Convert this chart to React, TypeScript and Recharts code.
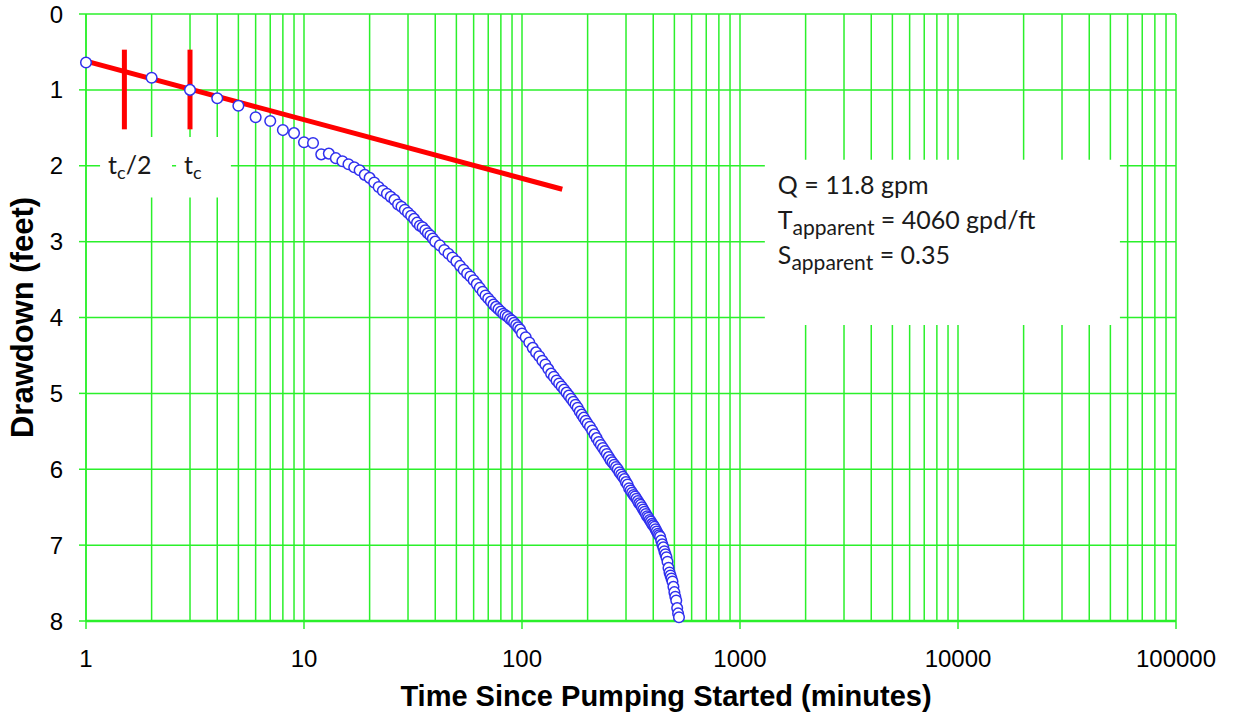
import React from 'react';
import { ScatterChart, Scatter, XAxis, YAxis, ReferenceLine, ReferenceArea } from 'recharts';

// drawdown readings (minutes since pumping started, feet)
const TIME_MIN = [
  1, 2, 3, 4, 5, 6, 7, 8, 9, 10, 11, 12, 13, 14, 15, 16, 17, 18, 19, 20,
  21, 22, 23, 24, 25, 26, 27, 28, 29, 30, 31, 32, 33, 34, 35, 36, 37, 38, 39, 40,
  42, 44, 46, 48, 50, 52, 54, 56, 58, 60, 62, 64, 66, 68, 70, 72, 74, 76, 78, 80,
  82, 84, 86, 88, 90, 92, 94, 96, 98, 100,
  104, 108, 112, 116, 120, 124, 128, 132, 136, 140, 144, 148, 152, 156, 160, 164, 168, 172, 176, 180,
  184, 188, 192, 196, 200,
  205, 210, 215, 220, 225, 230, 235, 240, 245, 250, 255, 260, 265, 270, 275, 280, 285, 290, 295, 300,
  305, 310, 315, 320, 325, 330, 335, 340, 345, 350, 355, 360, 365, 370, 375, 380, 385, 390, 395, 400,
  405, 410, 415, 420, 425, 430, 435, 440, 445, 450, 455, 460, 465, 470, 475, 480, 485, 490, 495, 500,
  505, 510, 515, 520, 525,
];
const DRAWDOWN_FT = [
  0.64, 0.84, 1.0, 1.11, 1.21, 1.36, 1.41, 1.53, 1.57, 1.69, 1.7, 1.85, 1.84, 1.9, 1.94, 1.98, 2.02, 2.06, 2.12, 2.16,
  2.22, 2.28, 2.33, 2.37, 2.41, 2.45, 2.51, 2.54, 2.58, 2.62, 2.66, 2.7, 2.75, 2.79, 2.81, 2.85, 2.89, 2.92, 2.96, 3.0,
  3.05, 3.11, 3.16, 3.21, 3.26, 3.32, 3.37, 3.42, 3.46, 3.51, 3.56, 3.61, 3.66, 3.71, 3.75, 3.79, 3.83, 3.86, 3.89, 3.92,
  3.95, 3.97, 3.99, 4.02, 4.04, 4.07, 4.1, 4.13, 4.16, 4.21,
  4.26, 4.33, 4.4, 4.46, 4.51, 4.57, 4.62, 4.68, 4.74, 4.78, 4.83, 4.87, 4.91, 4.95, 4.99, 5.03, 5.07, 5.11, 5.15, 5.19,
  5.24, 5.28, 5.32, 5.36, 5.4,
  5.44, 5.49, 5.54, 5.59, 5.64, 5.68, 5.72, 5.76, 5.8, 5.84, 5.88, 5.91, 5.94, 5.97, 6.0, 6.04, 6.07, 6.1, 6.13, 6.17,
  6.2, 6.25, 6.28, 6.31, 6.34, 6.36, 6.39, 6.42, 6.45, 6.47, 6.5, 6.53, 6.56, 6.59, 6.62, 6.64, 6.67, 6.69, 6.72, 6.74,
  6.76, 6.79, 6.82, 6.85, 6.87, 6.89, 6.94, 6.99, 7.03, 7.08, 7.12, 7.16, 7.22, 7.3, 7.36, 7.4, 7.44, 7.48, 7.55, 7.62,
  7.68, 7.73, 7.83, 7.9, 7.95,
];

const X_TICKS = [1, 10, 100, 1000, 10000, 100000];
const X_MINOR_FACTORS = [2, 3, 4, 5, 6, 7, 8, 9];
const Y_TICKS = [0, 1, 2, 3, 4, 5, 6, 7, 8];

// straight-line (Cooper-Jacob) fit and the t_c/2, t_c markers
const FIT_T = [1, 153];
const FIT_D = [0.62, 2.31];
const MARK_T = [1.5, 3];
const MARK_D = [0.47, 1.52];

const PARAM_NAMES = ['Q', 'T', 'S'];
const PARAM_SUBS = ['', 'apparent', 'apparent'];
const PARAM_VALUES = [' = 11.8 gpm', ' = 4060 gpd/ft', ' = 0.35'];

const GREEN = '#2bf02b';
const BLUE = '#3030ee';
const AXIS_FONT = '"Liberation Sans", Arial, sans-serif';
const TEXT_FONT = 'Lato, "Open Sans", sans-serif';

const data = TIME_MIN.map((t, i) => ({ t, d: DRAWDOWN_FT[i] }));
const minorX = X_TICKS.slice(0, -1).flatMap(dec => X_MINOR_FACTORS.map(f => dec * f));
const gridX = [...X_TICKS, ...minorX];

const Dot = (props: any) => (
  <circle cx={props.cx} cy={props.cy} r={5.3} fill="#fff" stroke={BLUE} strokeWidth={1.5} />
);

const ParamText = ({ viewBox }: any) => {
  const { x, y } = viewBox;
  return (
    <text fontFamily={TEXT_FONT} fontSize={25} fill="#1a1a1a">
      {PARAM_NAMES.map((n, i) => (
        <tspan key={i} x={x + 13} y={y + 34 + i * 35}>
          {n}
          {PARAM_SUBS[i] ? (
            <>
              <tspan fontSize={21} dy={6}>{PARAM_SUBS[i]}</tspan>
              <tspan dy={-6}>{PARAM_VALUES[i]}</tspan>
            </>
          ) : (
            <tspan>{PARAM_VALUES[i]}</tspan>
          )}
        </tspan>
      ))}
    </text>
  );
};

const TcText = (suffix: string) => ({ viewBox }: any) => (
  <text x={viewBox.x + 8} y={viewBox.y + 37} fontFamily={TEXT_FONT} fontSize={25} fill="#1a1a1a">
    t<tspan fontSize={18} dy={5}>c</tspan>
    {suffix ? <tspan dy={-5}>{suffix}</tspan> : null}
  </text>
);

const XTitle = ({ viewBox }: any) => (
  <text
    x={viewBox.x + viewBox.width / 2 + 35}
    y={viewBox.y + viewBox.height - 11}
    textAnchor="middle"
    fontFamily={AXIS_FONT}
    fontWeight="bold"
    fontSize={29}
    fill="#000"
  >
    Time Since Pumping Started (minutes)
  </text>
);

const App: React.FC = () => {
  return (
    <div style={{ position: 'absolute', left: 0, top: 0, width: 1236, height: 717, background: '#fff' }}>
      <ScatterChart width={1236} height={717} margin={{ top: 14, right: 60, bottom: 0, left: 0 }}>
        <XAxis
          type="number"
          dataKey="t"
          scale="log"
          domain={[1, 100000]}
          ticks={X_TICKS}
          height={96}
          stroke={GREEN}
          axisLine={{ stroke: GREEN, strokeWidth: 2.5 }}
          tickLine={{ stroke: GREEN, strokeWidth: 1.5 }}
          tickSize={8}
          tickMargin={21}
          tick={{ fill: '#000', fontSize: 24, fontFamily: AXIS_FONT }}
          label={{ content: XTitle }}
        />
        <YAxis
          type="number"
          dataKey="d"
          domain={[0, 8]}
          ticks={Y_TICKS}
          reversed
          width={86}
          axisLine={{ stroke: GREEN, strokeWidth: 1.5 }}
          tickLine={{ stroke: GREEN, strokeWidth: 1.5 }}
          tickSize={7}
          tickMargin={16}
          tick={{ fill: '#000', fontSize: 24, fontFamily: AXIS_FONT }}
          label={{
            value: 'Drawdown (feet)',
            angle: -90,
            position: 'insideLeft',
            offset: 22,
            style: { textAnchor: 'middle', fontWeight: 'bold', fontSize: 31, fontFamily: AXIS_FONT, fill: '#000' },
          }}
        />
        {gridX.map(v => (
          <ReferenceLine key={'gx' + v} x={v} stroke={GREEN} strokeWidth={1.5} zIndex={50} />
        ))}
        {Y_TICKS.map(v => (
          <ReferenceLine key={'gy' + v} y={v} stroke={GREEN} strokeWidth={1.5} zIndex={50} />
        ))}
        <ReferenceArea
          x1={1.16} x2={2.48} y1={1.62} y2={2.42}
          fill="#fff" fillOpacity={1} stroke="none" zIndex={60}
          label={{ content: TcText('/2') }}
        />
        <ReferenceArea
          x1={2.59} x2={4.62} y1={1.62} y2={2.42}
          fill="#fff" fillOpacity={1} stroke="none" zIndex={60}
          label={{ content: TcText('') }}
        />
        <ReferenceArea
          x1={1300} x2={55300} y1={1.92} y2={4.1}
          fill="#fff" fillOpacity={1} stroke="none" zIndex={60}
          label={{ content: ParamText }}
        />
        <ReferenceLine
          segment={[{ x: FIT_T[0], y: FIT_D[0] }, { x: FIT_T[1], y: FIT_D[1] }]}
          stroke="#ff0000" strokeWidth={5} zIndex={70}
        />
        {MARK_T.map(t => (
          <ReferenceLine
            key={'m' + t}
            segment={[{ x: t, y: MARK_D[0] }, { x: t, y: MARK_D[1] }]}
            stroke="#ff0000" strokeWidth={5} zIndex={70}
          />
        ))}
        <Scatter data={data} shape={Dot} isAnimationActive={false} />
      </ScatterChart>
    </div>
  );
};

export default App;
